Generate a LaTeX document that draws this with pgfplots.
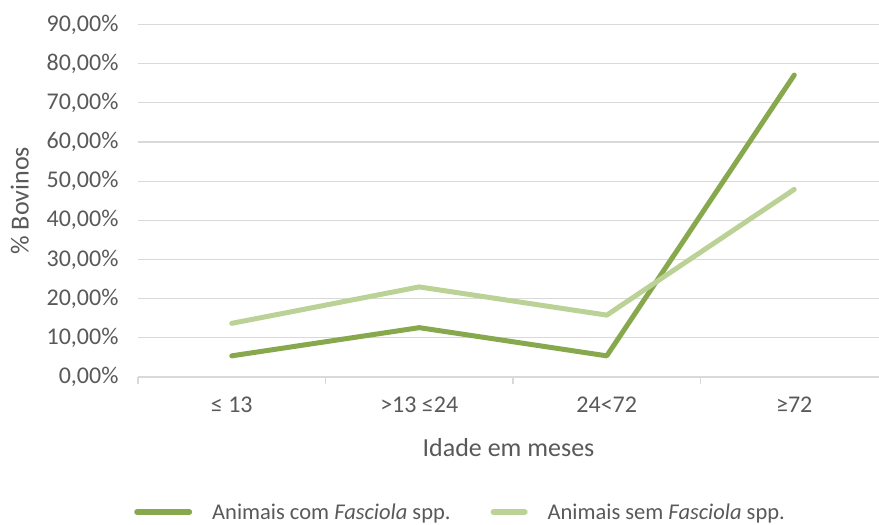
\documentclass[border=0pt]{standalone}
\usepackage{fontspec}
\setmainfont{Carlito}
\usepackage{pgfplots}
\pgfplotsset{compat=1.18}
\definecolor{darkg}{HTML}{88A84E}
\definecolor{lightg}{HTML}{BBD296}
\definecolor{gridc}{HTML}{D9D9D9}
\definecolor{txt}{HTML}{595959}
\begin{document}
\begin{tikzpicture}
\begin{axis}[
  scale only axis,
  width=741pt, height=352.5pt,
  xmin=-0.5, xmax=3.452,
  ymin=0, ymax=90,
  ytick={0,10,...,90},
  xtick={0,1,2,3},
  xticklabels={{≤\ 13},{>13 ≤24},{24<72},{≥72}},
  major tick length=0pt,
  extra x ticks={-0.5,0.5,1.5,2.5},
  extra x tick labels={},
  extra x tick style={major tick length=7pt, tick align=outside, tick style={color=gridc, line width=1.3pt}, grid=none},
  separate axis lines,
  axis x line*=bottom,
  axis y line*=left,
  x axis line style={color=gridc, line width=1.3pt, -},
  y axis line style={draw=none},
  ymajorgrids,
  grid style={color=gridc, line width=1.3pt},
  clip=false,
  /pgf/number format/assume math mode=true,
  yticklabel={\pgfmathprintnumber[fixed,fixed zerofill,precision=2,use comma,assume math mode=true]{\tick}\%},
  ticklabel style={font=\fontsize{24}{28}\selectfont, text=txt},
  y tick label style={xshift=-16pt},
  x tick label style={yshift=-16pt},
  xlabel={Idade em meses},
  ylabel={\% Bovinos},
  label style={font=\fontsize{26}{30}\selectfont, text=txt},
  xlabel style={yshift=-12pt},
  ylabel style={yshift=11pt},
  legend columns=2,
  legend style={draw=none, fill=none, at={(-0.0054,-0.383)}, anchor=west, inner sep=0pt,
    font=\fontsize{22.5}{27}\selectfont, text=txt,
    /tikz/every odd column/.append style={column sep=18pt},
    /tikz/every even column/.append style={column sep=38pt}},
]
\addplot[darkg, line width=5pt, line cap=round, line join=round,
  legend image code/.code={\draw[darkg, line width=6pt, line cap=round] (0pt,0pt) -- (52pt,0pt);}]
  coordinates {(0,5.4) (1,12.6) (2,5.4) (3,77.1)};
\addlegendentry{Animais com \textit{Fasciola} spp.}
\addplot[lightg, line width=5pt, line cap=round, line join=round,
  legend image code/.code={\draw[lightg, line width=6pt, line cap=round] (0pt,0pt) -- (31pt,0pt);}]
  coordinates {(0,13.7) (1,23.0) (2,15.8) (3,47.9)};
\addlegendentry{Animais sem \textit{Fasciola} spp.}
\end{axis}
\pgfresetboundingbox
\path[use as bounding box] (-138pt,-148pt) rectangle (741pt,377pt);
\end{tikzpicture}
\end{document}
